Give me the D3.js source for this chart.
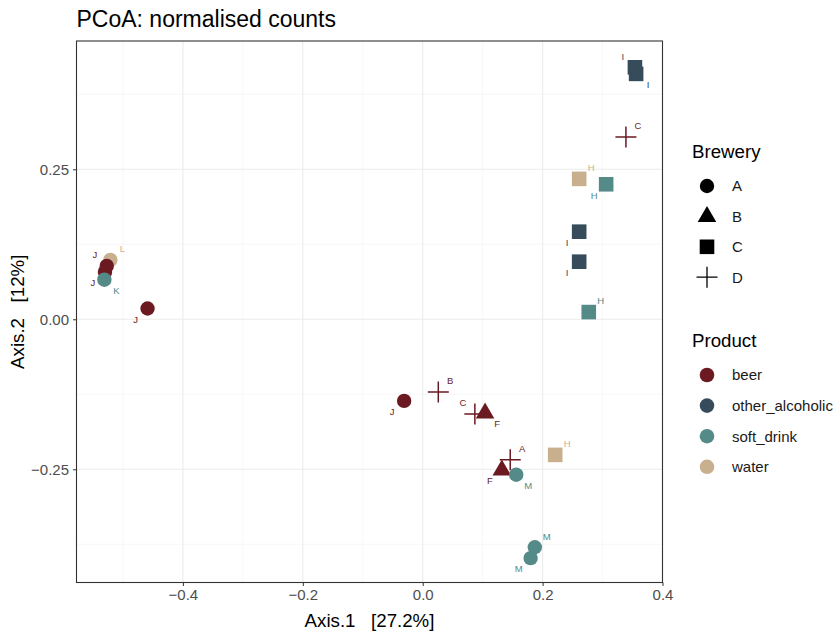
<!DOCTYPE html>
<html>
<head>
<meta charset="utf-8">
<style>
    body { margin: 0; background: #fff; }
    svg { font-family: 'Liberation Sans', Arial, sans-serif; }
    .grid-major line { stroke: #ebebeb; stroke-width: 1.1px; }
    .grid-minor line { stroke: #f2f2f2; stroke-width: 0.6px; }
    .axis .domain { display: none; }
    .axis .tick line { stroke: #333; stroke-width: 1px; }
    .axis .tick text { font-size: 15px; fill: #4d4d4d; }
    .ttl { white-space: pre; }
</style>
</head>
<body>
<svg width="838" height="633"></svg>
<script src="https://d3js.org/d3.v7.min.js"></script>
<script>
// --- data ---
let axis1 = [-0.521, -0.527, -0.530, -0.531, -0.459, -0.031, 0.026, 0.087, 0.104, 0.146, 0.132, 0.156, 0.221, 0.187, 0.180, 0.354, 0.356, 0.339, 0.261, 0.306, 0.261, 0.261, 0.277]
let axis2 = [0.099, 0.089, 0.079, 0.066, 0.018, -0.136, -0.121, -0.158, -0.156, -0.234, -0.251, -0.259, -0.226, -0.380, -0.398, 0.420, 0.409, 0.304, 0.234, 0.225, 0.146, 0.096, 0.012]
let brewery = ["A", "A", "A", "A", "A", "A", "D", "D", "B", "D", "B", "A", "C", "A", "A", "C", "C", "D", "C", "C", "C", "C", "C"]
let product = ["water", "beer", "beer", "soft_drink", "beer", "beer", "beer", "beer", "beer", "beer", "beer", "soft_drink", "water", "soft_drink", "soft_drink",
    "other_alcoholic", "other_alcoholic", "beer", "water", "soft_drink", "other_alcoholic", "other_alcoholic", "soft_drink"]
let sampleLabel = ["L", "J", "J", "K", "J", "J", "B", "C", "F", "A", "F", "M", "H", "M", "M", "I", "I", "C", "H", "H", "I", "I", "H"]
let labelSide = ["ur", "ul", "ll", "lr", "ll", "ll", "ur", "ul", "lr", "ur", "ll", "lr", "ur", "ur", "ll", "ul", "lr", "ur", "ur", "ll", "ll", "ll", "ur"]

let breweries = ["A", "B", "C", "D"]
let products = ["beer", "other_alcoholic", "soft_drink", "water"]
let xTicks = [-0.4, -0.2, 0.0, 0.2, 0.4]
let xMinor = [-0.5, -0.3, -0.1, 0.1, 0.3]
let yTicks = [-0.25, 0.00, 0.25]
let yMinor = [-0.375, -0.125, 0.125, 0.375]

let svg = d3.select("svg")

let panel = { left: 76.5, right: 662.5, top: 41, bottom: 582.5 }

let x = d3.scaleLinear()
    .domain([-0.5775, 0.4])
    .range([panel.left, panel.right])

let y = d3.scaleLinear()
    .domain([-0.4387, 0.4638])
    .range([panel.bottom, panel.top])

let color = d3.scaleOrdinal()
    .domain(products)
    .range(["#6b1a22", "#364c5a", "#548a87", "#c8b08e"])

// shape paths, centred on 0,0
function shapePath(b) {
    if (b == "A") return d3.symbol(d3.symbolCircle, Math.PI * 7.2 * 7.2)()
    if (b == "B") return "M0,-10.5L9.3,5.6L-9.3,5.6Z"
    if (b == "C") return "M-7.3,-7.3H7.3V7.3H-7.3Z"
    return "M-10.5,0H10.5M0,-10.5V10.5"
}

// grid
let minor = svg.append("g").attr("class", "grid-minor")
minor.selectAll("line.v").data(xMinor).join("line").attr("class", "v")
    .attr("x1", d => x(d)).attr("x2", d => x(d))
    .attr("y1", panel.top).attr("y2", panel.bottom)
minor.selectAll("line.h").data(yMinor).join("line").attr("class", "h")
    .attr("x1", panel.left).attr("x2", panel.right)
    .attr("y1", d => y(d)).attr("y2", d => y(d))

let major = svg.append("g").attr("class", "grid-major")
major.selectAll("line.v").data(xTicks).join("line").attr("class", "v")
    .attr("x1", d => x(d)).attr("x2", d => x(d))
    .attr("y1", panel.top).attr("y2", panel.bottom)
major.selectAll("line.h").data(yTicks).join("line").attr("class", "h")
    .attr("x1", panel.left).attr("x2", panel.right)
    .attr("y1", d => y(d)).attr("y2", d => y(d))

// axes
svg.append("g")
    .attr("class", "axis")
    .attr("transform", `translate(0,${panel.bottom})`)
    .call(d3.axisBottom(x).tickValues(xTicks).tickSize(3.5).tickPadding(3).tickFormat(d3.format(".1f")))

svg.append("g")
    .attr("class", "axis")
    .attr("transform", `translate(${panel.left},0)`)
    .call(d3.axisLeft(y).tickValues(yTicks).tickSize(3.5).tickPadding(4).tickFormat(d3.format(".2f")))

// points
let idx = d3.range(axis1.length)

svg.append("g")
    .selectAll("path")
    .data(idx)
    .join("path")
    .attr("transform", i => `translate(${x(axis1[i])},${y(axis2[i])})`)
    .attr("d", i => shapePath(brewery[i]))
    .style("fill", i => brewery[i] == "D" ? "none" : color(product[i]))
    .style("stroke", i => brewery[i] == "D" ? color(product[i]) : "none")
    .style("stroke-width", "1.5px")

// labels
svg.append("g")
    .selectAll("text")
    .data(idx)
    .join("text")
    .attr("x", i => x(axis1[i]) + (labelSide[i][1] == "r" ? 12 : -12))
    .attr("y", i => y(axis2[i]) + (labelSide[i][0] == "u" ? -11 : 11))
    .attr("dy", "0.35em")
    .attr("text-anchor", "middle")
    .style("font-size", "9.5px")
    .style("fill", i => color(product[i]))
    .text(i => sampleLabel[i])

// panel border
svg.append("rect")
    .attr("x", panel.left).attr("y", panel.top)
    .attr("width", panel.right - panel.left).attr("height", panel.bottom - panel.top)
    .style("fill", "none").style("stroke", "#333").style("stroke-width", "1.1px")

// titles
svg.append("text")
    .attr("x", panel.left).attr("y", 27)
    .style("font-size", "23px").style("fill", "#000")
    .text("PCoA: normalised counts")

svg.append("text")
    .attr("class", "ttl")
    .attr("x", (panel.left + panel.right) / 2).attr("y", 627)
    .attr("text-anchor", "middle")
    .style("font-size", "18.7px")
    .text("Axis.1   [27.2%]")

svg.append("text")
    .attr("class", "ttl")
    .attr("transform", `translate(24,${(panel.top + panel.bottom) / 2}) rotate(-90)`)
    .attr("text-anchor", "middle")
    .style("font-size", "18.7px")
    .text("Axis.2   [12%]")

// legends
let lg1 = svg.append("g").attr("transform", "translate(692,0)")
lg1.append("text").attr("x", 0).attr("y", 158).style("font-size", "18.7px").text("Brewery")
let keys1 = lg1.selectAll("g.key").data(breweries).join("g").attr("class", "key")
    .attr("transform", (d, i) => `translate(15,${186 + i * 30.4})`)
keys1.append("path")
    .attr("d", shapePath)
    .style("fill", d => d == "D" ? "none" : "#000")
    .style("stroke", d => d == "D" ? "#000" : "none")
    .style("stroke-width", "1.3px")
keys1.append("text").attr("x", 25).attr("dy", "0.36em").style("font-size", "15px").style("fill", "#1a1a1a").text(d => d)

let lg2 = svg.append("g").attr("transform", "translate(692,0)")
lg2.append("text").attr("x", 0).attr("y", 347).style("font-size", "18.7px").text("Product")
let keys2 = lg2.selectAll("g.key").data(products).join("g").attr("class", "key")
    .attr("transform", (d, i) => `translate(15,${375 + i * 30.6})`)
keys2.append("circle").attr("r", 7.3).style("fill", d => color(d))
keys2.append("text").attr("x", 25).attr("dy", "0.36em").style("font-size", "15px").style("fill", "#1a1a1a").text(d => d)
</script>
</body>
</html>
